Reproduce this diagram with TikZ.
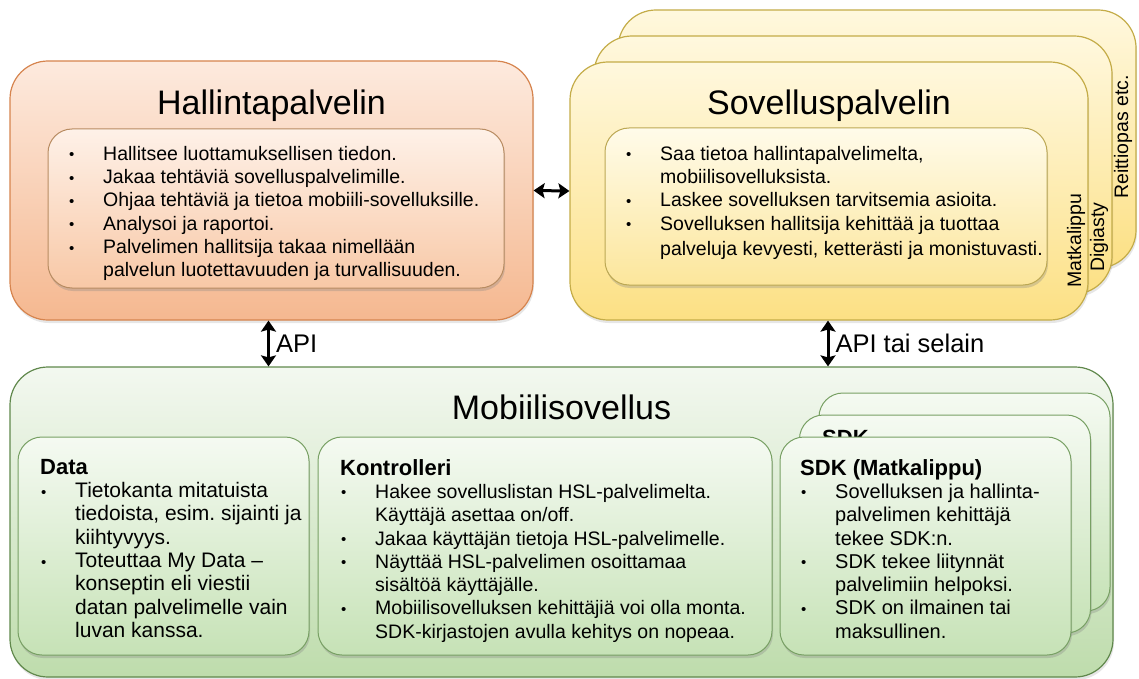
\documentclass[tikz,border=0pt]{standalone}
\usepackage{fontspec}
\setmainfont{Liberation Sans}
\usepackage{xcolor}
\usepackage{tikz}
\usetikzlibrary{arrows.meta,positioning,shadows,calc}
\frenchspacing
\definecolor{orgtop}{RGB}{253,234,222}
\definecolor{orgbot}{RGB}{245,184,144}
\definecolor{orgline}{RGB}{214,132,78}
\definecolor{orgintop}{RGB}{254,241,232}
\definecolor{orginbot}{RGB}{248,200,166}
\definecolor{orginline}{RGB}{184,140,98}
\definecolor{yeltop}{RGB}{255,248,222}
\definecolor{yelbot}{RGB}{252,224,132}
\definecolor{yelline}{RGB}{196,172,72}
\definecolor{yelintop}{RGB}{255,251,234}
\definecolor{yelinbot}{RGB}{252,230,155}
\definecolor{yelinline}{RGB}{188,168,84}
\definecolor{grntop}{RGB}{243,248,240}
\definecolor{grnbot}{RGB}{190,220,172}
\definecolor{grnline}{RGB}{96,136,76}
\definecolor{grnintop}{RGB}{245,250,242}
\definecolor{grninbot}{RGB}{198,226,182}
\definecolor{grninline}{RGB}{120,160,100}
\newcommand{\bul}{\makebox[35pt][l]{\hspace{1pt}{\fontsize{15}{15}\selectfont\raisebox{0.5pt}{•}}}}
\newcommand{\ind}{\hspace*{35pt}}
\newcommand{\headfont}{\bfseries\fontsize{22}{23.3}\selectfont}
\tikzset{
  outerbox/.style={rectangle, rounded corners=38pt, line width=1.2pt,
                   drop shadow={shadow xshift=1pt, shadow yshift=-3pt, opacity=0.2}},
  innerbox/.style={rectangle, rounded corners=24pt, line width=1pt,
                   drop shadow={shadow xshift=1pt, shadow yshift=-3pt, opacity=0.3}},
  orgbox/.style={outerbox, draw=orgline, top color=orgtop, bottom color=orgbot},
  orginbox/.style={innerbox, draw=orginline, top color=orgintop, bottom color=orginbot},
  yelbox/.style={outerbox, draw=yelline, top color=yeltop, bottom color=yelbot,
                 minimum width=518pt, minimum height=258pt},
  yelinbox/.style={innerbox, draw=yelinline, top color=yelintop, bottom color=yelinbot},
  grnbox/.style={outerbox, draw=grnline, top color=grntop, bottom color=grnbot},
  grninbox/.style={innerbox, draw=grninline, top color=grnintop, bottom color=grninbot,
                   minimum height=218pt},
  title/.style={font=\fontsize{34}{40}\selectfont, inner sep=0pt, anchor=base},
  bodytext/.style={font=\fontsize{19.5}{23.3}\selectfont, align=left, inner sep=0pt,
                   anchor=north west},
  vlabel/.style={font=\fontsize{19.5}{22}\selectfont, rotate=90, anchor=west, inner sep=0pt},
  apilabel/.style={font=\fontsize{25.5}{28}\selectfont, anchor=west, inner sep=1pt},
  dblarrow/.style={{Stealth[length=11pt,width=15pt,inset=2pt]}-{Stealth[length=11pt,width=15pt,inset=2pt]},
                   line width=3pt, black},
}
\begin{document}
\begin{tikzpicture}[x=1pt, y=-1pt]
  \useasboundingbox (0,0) rectangle (1139,679);
  \node[orgbox, minimum width=523pt, minimum height=259pt] (hallinta) at (271.5,190.5) {};
  \node[title] (htitle) at ([yshift=-54pt]hallinta.north) {Hallintapalvelin};
  \node[orginbox, minimum width=456pt, minimum height=159pt] (hinner) at (276,208.5) {};
  \node[bodytext] (htext) at (68,146) {\bul Hallitsee luottamuksellisen tiedon.\\
    \bul Jakaa tehtäviä sovelluspalvelimille.\\
    \bul Ohjaa tehtäviä ja tietoa mobiili-sovelluksille.\\
    \bul Analysoi ja raportoi.\\
    \bul Palvelimen hallitsija takaa nimellään\\
    \ind palvelun luotettavuuden ja turvallisuuden.};

  \node[yelbox] (sovback) at (877,139) {};
  \node[yelbox] (sovmid) at (853,165) {};
  \node[yelbox] (sovellus) at (829,191) {};
  \node[title] (stitle) at ([yshift=-53pt]sovellus.north) {Sovelluspalvelin};
  \node[yelinbox, minimum width=442pt, minimum height=157pt] (sinner) at (826,206.5) {};
  \node[bodytext] (stext) at (625,146) {\bul Saa tietoa hallintapalvelimelta,\\
    \ind mobiilisovelluksista.\\
    \bul Laskee sovelluksen tarvitsemia asioita.\\
    \bul Sovelluksen hallitsija kehittää ja tuottaa\\[2pt]
    \ind palveluja kevyesti, ketterästi ja monistuvasti.};
  \node[vlabel] (matka) at (1076,288) {Matkalippu};
  \node[vlabel] (digi) at (1099,272) {Digiasty};
  \node[vlabel] (reitti) at (1123,199) {Reittiopas etc.};

  \node[grnbox, minimum width=1103pt, minimum height=310pt] (mobiili) at (561.5,522) {};
  \node[title] (mtitle) at ([yshift=-53pt]mobiili.north) {Mobiilisovellus};
  \node[grninbox, minimum width=291pt] (data) at (163.5,546) {};
  \node[bodytext, font=\fontsize{21}{23.3}\selectfont] (dtext) at (40,459) {{\headfont Data}\\
    \bul Tietokanta mitatuista\\
    \ind tiedoista, esim. sijainti ja\\
    \ind kiihtyvyys.\\
    \bul Toteuttaa My Data –\\
    \ind konseptin eli viestii\\
    \ind datan palvelimelle vain\\
    \ind luvan kanssa.};
  \node[grninbox, minimum width=454pt] (kontr) at (545,546) {};
  \node[bodytext] (ktext) at (340,459) {{\headfont Kontrolleri}\\
    \bul Hakee sovelluslistan HSL-palvelimelta.\\
    \ind Käyttäjä asettaa on/off.\\
    \bul Jakaa käyttäjän tietoja HSL-palvelimelle.\\
    \bul Näyttää HSL-palvelimen osoittamaa\\
    \ind sisältöä käyttäjälle.\\
    \bul Mobiilisovelluksen kehittäjiä voi olla monta.\\
    \ind SDK-kirjastojen avulla kehitys on nopeaa.};
  \node[grninbox, minimum width=291pt] (sdkback) at (964.5,502) {};
  \node[grninbox, minimum width=291pt] (sdkmid) at (945,524) {};
  \node[bodytext] (sdkmidtext) at (822,430) {{\headfont SDK}};
  \node[grninbox, minimum width=291pt] (sdk) at (925.5,546) {};
  \node[bodytext, font=\fontsize{20}{23.3}\selectfont] (sdktext) at (800,459) {{\headfont SDK (Matkalippu)}\\
    \bul Sovelluksen ja hallinta-\\
    \ind palvelimen kehittäjä\\
    \ind tekee SDK:n.\\
    \bul SDK tekee liitynnät\\
    \ind palvelimiin helpoksi.\\
    \bul SDK on ilmainen tai\\
    \ind maksullinen.};

  \draw[dblarrow] (hallinta.east) -- (sovellus.west);
  \draw[dblarrow] ([xshift=-3pt]hallinta.south) -- ([xshift=-3pt]hallinta.south |- mobiili.north)
    node[apilabel, midway, xshift=5pt] {API};
  \draw[dblarrow] ([xshift=-1pt]sovellus.south) -- ([xshift=-1pt]sovellus.south |- mobiili.north)
    node[apilabel, midway, xshift=5pt] {API tai selain};
\end{tikzpicture}
\end{document}
